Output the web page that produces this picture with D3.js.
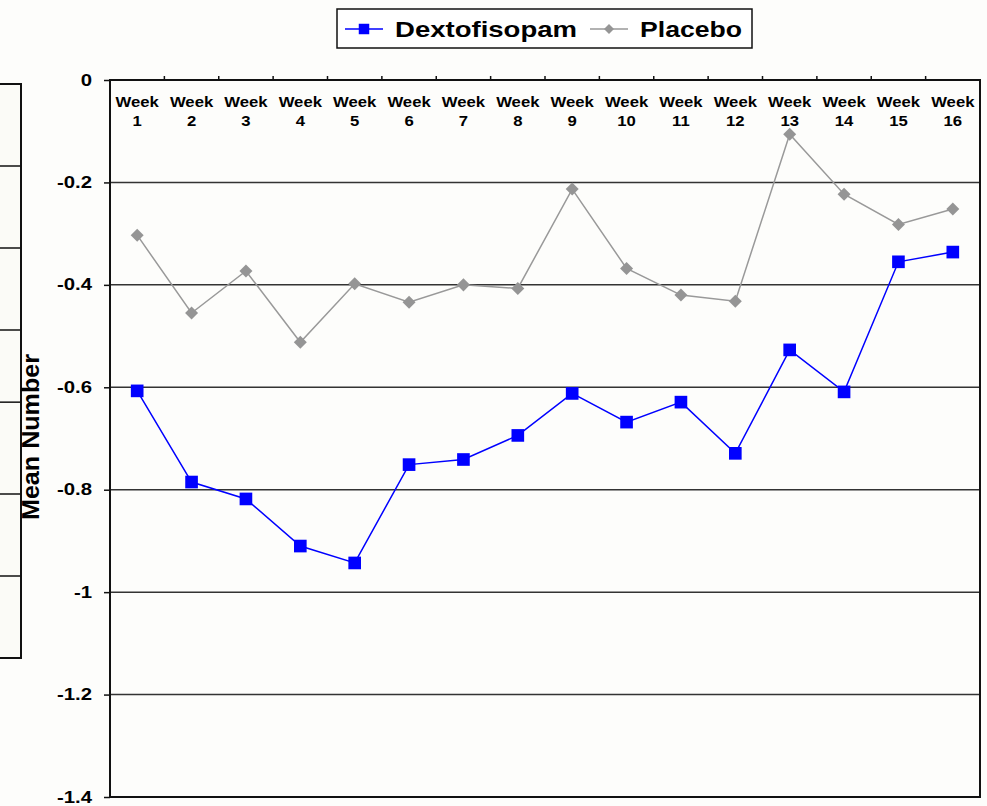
<!DOCTYPE html>
<html>
<head>
<meta charset="utf-8">
<script src="https://cdn.jsdelivr.net/npm/d3@7"></script>
<style>
  body { margin: 0; background: #fdfdfb; }
  svg { display: block; font-family: "Liberation Sans", Arial, Helvetica, sans-serif; font-weight: bold; }
</style>
</head>
<body>
<div id="chart"></div>
<script>
// data
const weeks = ["1","2","3","4","5","6","7","8","9","10","11","12","13","14","15","16"];
const dextofisopam = [-0.607,-0.785,-0.818,-0.91,-0.943,-0.751,-0.741,-0.694,-0.612,-0.668,-0.629,-0.729,-0.527,-0.609,-0.355,-0.336];
const placebo = [-0.303,-0.455,-0.373,-0.512,-0.398,-0.434,-0.40,-0.407,-0.213,-0.368,-0.42,-0.432,-0.106,-0.223,-0.282,-0.252];
const yTicks = [0,-0.2,-0.4,-0.6,-0.8,-1,-1.2,-1.4];
const seriesNames = ["Dextofisopam","Placebo"];

const width = 987, height = 806,
      margin = ({top: 80, right: 7, bottom: 9, left: 110});

const svg = d3.select("#chart").append("svg")
    .attr("width", width).attr("height", height)
    .attr("viewBox", [0, 0, width, height]);

// stretch text horizontally a bit, the original font runs wide
function widen(sel, k) {
  sel.each(function() {
    const len = this.getComputedTextLength();
    d3.select(this).attr("textLength", len * k).attr("lengthAdjust", "spacingAndGlyphs");
  });
}

// bit of another chart peeking in on the left edge
const ghost = d3.scaleLinear().domain([0, 7]).range([84, 658]);
svg.append("rect")
    .attr("x", -2).attr("y", ghost(0))
    .attr("width", 23).attr("height", ghost(7) - ghost(0))
    .attr("fill", "#fbfbf7").attr("stroke", "#111").attr("stroke-width", 2);
svg.append("g").selectAll("line")
    .data([1, 2, 3, 3.88, 5, 6])
    .join("line")
    .attr("x1", 0).attr("x2", 21)
    .attr("y1", d => ghost(d)).attr("y2", d => ghost(d))
    .attr("stroke", "#111").attr("stroke-width", 1.5);

const x = d3.scaleBand()
    .domain(weeks)
    .range([margin.left, width - margin.right])
    .padding(0);

const y = d3.scaleLinear()
    .domain([0, -1.4])
    .range([margin.top, height - margin.bottom]);

const cx = w => x(w) + x.bandwidth() / 2;

// gridlines
svg.append("g").selectAll("line")
    .data(yTicks.slice(1, -1))
    .join("line")
    .attr("x1", margin.left).attr("x2", width - margin.right)
    .attr("y1", d => y(d)).attr("y2", d => y(d))
    .attr("stroke", "#333").attr("stroke-width", 1.5);

// frame
svg.append("rect")
    .attr("x", margin.left).attr("y", margin.top)
    .attr("width", width - margin.right - margin.left)
    .attr("height", height - margin.bottom - margin.top)
    .attr("fill", "none").attr("stroke", "#111").attr("stroke-width", 2);

// y axis
const yAxis = g => g
    .attr("transform", `translate(${margin.left},0)`)
    .call(d3.axisLeft(y).tickValues(yTicks).tickSize(6).tickPadding(12)
        .tickFormat(d => d === 0 ? "0" : String(+d.toFixed(1))))
    .call(g => g.select(".domain").remove())
    .call(g => g.selectAll(".tick line").attr("stroke", "#111").attr("stroke-width", 1.5))
    .call(g => g.selectAll(".tick text")
        .attr("font-size", 16).attr("font-weight", "bold").attr("fill", "#000")
        .attr("font-family", "Liberation Sans, Arial, sans-serif"));
const yG = svg.append("g").call(yAxis);
widen(yG.selectAll(".tick text"), 1.27);

// x axis across the top, ticks at the band edges
const xAxis = g => g
    .attr("transform", `translate(0,${margin.top})`)
    .call(d3.axisTop(x).tickSize(0).tickFormat(""))
    .call(g => g.select(".domain").remove());
svg.append("g").call(xAxis);
svg.append("g").selectAll("line")
    .data(weeks.slice(1))
    .join("line")
    .attr("x1", d => x(d)).attr("x2", d => x(d))
    .attr("y1", margin.top).attr("y2", margin.top - 4)
    .attr("stroke", "#111").attr("stroke-width", 1.5);

const wk = svg.append("g").selectAll("text")
    .data(weeks)
    .join("text")
    .attr("text-anchor", "middle")
    .attr("font-size", 14.5);
wk.append("tspan").attr("x", d => cx(d)).attr("y", 107).text("Week");
wk.append("tspan").attr("x", d => cx(d)).attr("y", 126).text(d => d);
widen(wk.selectAll("tspan"), 1.15);

// y label, sits over the edge of the box on the left
svg.append("text")
    .attr("transform", "translate(39,437) rotate(-90)")
    .attr("text-anchor", "middle")
    .attr("font-size", 23)
    .attr("textLength", 166).attr("lengthAdjust", "spacingAndGlyphs")
    .text("Mean Number");

// lines and markers
const line = d3.line().x((d, i) => cx(weeks[i])).y(d => y(d));

svg.append("path").datum(placebo)
    .attr("d", line).attr("fill", "none")
    .attr("stroke", "#999").attr("stroke-width", 1.5);
svg.append("path").datum(dextofisopam)
    .attr("d", line).attr("fill", "none")
    .attr("stroke", "#0000ff").attr("stroke-width", 1.5);

const diamond = d3.symbol(d3.symbolSquare, 85);
svg.append("g").selectAll("path")
    .data(placebo)
    .join("path")
    .attr("d", diamond)
    .attr("transform", (d, i) => `translate(${cx(weeks[i])},${y(d)}) rotate(45)`)
    .attr("fill", "#959595");

const square = d3.symbol(d3.symbolSquare, 160);
svg.append("g").selectAll("path")
    .data(dextofisopam)
    .join("path")
    .attr("d", square)
    .attr("transform", (d, i) => `translate(${cx(weeks[i])},${y(d)})`)
    .attr("fill", "#0000ff");

// legend
const legend = svg.append("g");
legend.append("rect")
    .attr("x", 337).attr("y", 9).attr("width", 415).attr("height", 39)
    .attr("fill", "#fff").attr("stroke", "#111").attr("stroke-width", 1.5);

const legItems = [
  {name: seriesNames[0], x0: 345, color: "#0000ff", sym: d3.symbol(d3.symbolSquare, 110), rot: 0, len: 182},
  {name: seriesNames[1], x0: 590, color: "#999", sym: d3.symbol(d3.symbolSquare, 50), rot: 45, len: 102}
];
const li = legend.selectAll("g.item").data(legItems).join("g").attr("class", "item");
li.append("line")
    .attr("x1", d => d.x0).attr("x2", d => d.x0 + 38)
    .attr("y1", 29).attr("y2", 29)
    .attr("stroke", d => d.color).attr("stroke-width", 1.5);
li.append("path")
    .attr("d", d => d.sym())
    .attr("transform", d => `translate(${d.x0 + 19},29) rotate(${d.rot})`)
    .attr("fill", d => d.color === "#999" ? "#959595" : d.color);
li.append("text")
    .attr("x", d => d.x0 + 50).attr("y", 37)
    .attr("font-size", 22)
    .attr("textLength", d => d.len).attr("lengthAdjust", "spacingAndGlyphs")
    .text(d => d.name);
</script>
</body>
</html>
